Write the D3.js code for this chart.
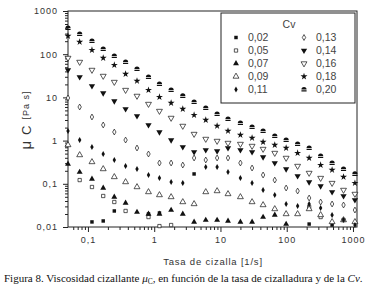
<!DOCTYPE html>
<html>
<head>
<meta charset="utf-8">
<script src="https://cdn.jsdelivr.net/npm/d3@7"></script>
<style>
  body { margin: 0; background: #fff; }
  svg { display: block; font-family: "Liberation Sans", Arial, sans-serif; }
  .axis path, .axis line { stroke: #222; }
  .axis text { fill: #333; font-size: 9px; letter-spacing: 1px; }
</style>
</head>
<body>
<div id="chart"></div>
<script>
// Shear rate [1/s] for every measured point (shared by all series).
const shearRates = [0.05, 0.075, 0.115, 0.17, 0.25, 0.37, 0.55, 0.82, 1.2, 1.8, 2.7, 4.0, 6.0,
  8.9, 13, 20, 30, 44, 66, 98, 146, 218, 325, 484, 720, 1070];

// Shear viscosity μC [Pa s] per volume concentration Cv; null = not shown (below 0,01).
const cv002 = [null, null, 0.0131, 0.0138, 0.0235, null, null, 0.0200, 0.0211, null, null, 0.169, null,
  null, null, null, null, null, null, null, null, 0.0117, null, 0.0111, null, null];
const cv005 = [null, 0.122, 0.0843, 0.0522, 0.0379, 0.0235, null, 0.0170, 0.0105, 0.0111, null, null, null,
  null, null, null, null, null, null, null, null, 0.0290, 0.0170, null, 0.0145, null];
const cv007 = [0.287, 0.187, 0.129, 0.0799, 0.0495, 0.0359, 0.0222, 0.0200, 0.0200, 0.0247, 0.0200, 0.0131, 0.0145,
  0.0145, 0.0138, 0.0131, 0.0131, 0.0170, 0.0190, 0.0117, null, null, null, null, null, null];
const cv009 = [0.791, 0.464, 0.320, 0.220, 0.144, 0.110, 0.0843, 0.0646, 0.0550, 0.0495, 0.0379, 0.0341, 0.0646,
  0.0681, 0.0581, 0.0495, 0.0379, 0.0323, 0.0261, 0.0200, 0.0200, 0.0261, 0.0190, 0.0131, 0.0145, 0.0131];
const cv011 = [1.67, 1.03, 0.711, 0.490, 0.356, 0.258, 0.220, 0.160, 0.136, 0.110, 0.104, null, 0.245,
  0.245, 0.187, 0.136, 0.104, 0.0719, 0.0550, 0.0341, 0.0306, 0.0341, 0.0275, 0.0190, 0.0145, 0.0111];
const cv013 = [9.7, 6.0, 3.52, 2.30, 1.58, 1.03, 0.674, 0.490, 0.303, 0.303, 0.272, 0.396, 0.356,
  0.396, 0.396, 0.303, 0.232, 0.160, 0.122, 0.0799, 0.0681, 0.0469, 0.0379, 0.0341, 0.0323, 0.0247];
const cv014 = [43.1, 29.7, 18.4, 12.6, 8.25, 5.39, 3.71, 2.30, 1.58, 1.03, 0.711, 0.545, 0.606,
  0.574, 0.674, 0.606, 0.545, 0.417, 0.303, 0.220, 0.152, 0.110, 0.0889, 0.0646, 0.0522, 0.0422];
const cv016 = [81.7, 66.0, 43.1, 31.3, 22.7, 14.8, 10.8, 7.03, 4.84, 3.34, 2.18, 1.42, 1.09,
  0.979, 0.880, 0.834, 0.750, 0.639, 0.516, 0.396, 0.258, 0.178, 0.136, 0.104, 0.0719, 0.0581];
const cv018 = [264, 192, 125, 81.7, 56.2, 34.8, 24.0, 14.8, 10.2, 7.42, 5.39, 3.91, 3.0,
  2.18, 1.67, 1.35, 1.15, 0.928, 0.791, 0.674, 0.516, 0.396, 0.272, 0.209, 0.144, 0.104];
const cv020 = [404, 293, 202, 132, 90.9, 66.0, 45.4, 29.7, 20.4, 14.8, 10.8, 7.83, 5.68,
  4.13, 3.16, 2.56, 2.06, 1.67, 1.28, 1.03, 0.834, 0.674, 0.440, 0.303, 0.220, 0.169];

const cvLabels = ["0,02", "0,05", "0,07", "0,09", "0,11", "0,13", "0,14", "0,16", "0,18", "0,20"];
const cvValues = [cv002, cv005, cv007, cv009, cv011, cv013, cv014, cv016, cv018, cv020];
const xTicks = [0.1, 1, 10, 100, 1000];
const xTickLabels = ["0,1", "1", "10", "100", "1000"];
const yTicks = [0.01, 0.1, 1, 10, 100, 1000];
const yTickLabels = ["0,01", "0,1", "1", "10", "100", "1000"];

// "hat" marker for Cv = 0,20: dome on top of a thin bar
const hatSymbol = {
  draw(ctx, size) {
    const r = Math.sqrt(size / 3);
    ctx.moveTo(-r, 0);
    ctx.arc(0, 0, r, Math.PI, 0);
    ctx.closePath();
    ctx.moveTo(-r, 0.8);
    ctx.lineTo(r, 0.8);
    ctx.lineTo(r, r * 0.8);
    ctx.lineTo(-r, r * 0.8);
    ctx.closePath();
  }
};
const markers = [
  { type: d3.symbolSquare, fill: true, size: 12, rot: 0 },
  { type: d3.symbolSquare, fill: false, size: 11, rot: 0 },
  { type: d3.symbolTriangle, fill: true, size: 15, rot: 0 },
  { type: d3.symbolTriangle, fill: false, size: 15, rot: 0 },
  { type: d3.symbolDiamond, fill: true, size: 10, rot: 0 },
  { type: d3.symbolDiamond, fill: false, size: 10, rot: 0 },
  { type: d3.symbolTriangle, fill: true, size: 17, rot: 180 },
  { type: d3.symbolTriangle, fill: false, size: 15, rot: 180 },
  { type: d3.symbolStar, fill: true, size: 15, rot: 0 },
  { type: hatSymbol, fill: true, size: 20, rot: 0 }
];

const W = 382, H = 285;
const m = { left: 68, right: 357, top: 11, bottom: 227 };

const x = d3.scaleLog().domain([0.05, 1150]).range([m.left, m.right]);
const y = d3.scaleLog().domain([0.01, 1000]).range([m.bottom, m.top]);

const svg = d3.select("#chart").append("svg").attr("width", W).attr("height", H);

// minor ticks (2..9 within each decade)
const minorX = [], minorY = [];
for (let e = -2; e <= 3; e++) for (let k = 2; k <= 9; k++) {
  const v = k * Math.pow(10, e);
  if (v > 0.05 && v < 1150) minorX.push(v);
  if (v > 0.01 && v < 1000) minorY.push(v);
}

svg.append("g").attr("class", "axis").attr("transform", `translate(0,${m.bottom})`)
  .call(d3.axisBottom(x).tickValues(minorX).tickSize(3).tickFormat(""))
  .select(".domain").remove();
svg.append("g").attr("class", "axis").attr("transform", `translate(${m.left},0)`)
  .call(d3.axisLeft(y).tickValues(minorY).tickSize(3).tickFormat(""))
  .select(".domain").remove();

svg.append("g").attr("class", "axis").attr("transform", `translate(0,${m.bottom})`)
  .call(d3.axisBottom(x).tickValues(xTicks).tickSize(5).tickPadding(5)
    .tickFormat((d, i) => xTickLabels[i]))
  .select(".domain").remove();
svg.append("g").attr("class", "axis").attr("transform", `translate(${m.left},0)`)
  .call(d3.axisLeft(y).tickValues(yTicks).tickSize(5).tickPadding(5)
    .tickFormat((d, i) => yTickLabels[i]))
  .select(".domain").remove();

// frame
svg.append("rect").attr("x", m.left).attr("y", m.top)
  .attr("width", m.right - m.left).attr("height", m.bottom - m.top)
  .attr("fill", "none").attr("stroke", "#222").attr("stroke-width", 1);

// data points
const plot = svg.append("g");
cvValues.forEach((vals, si) => {
  const mk = markers[si];
  const sym = d3.symbol().type(mk.type).size(mk.size);
  const pts = shearRates.map((sr, i) => ({ sr, v: vals[i] })).filter((p) => p.v != null);
  plot.selectAll(null).data(pts).join("path")
    .attr("d", sym)
    .attr("transform", (p) => `translate(${x(p.sr)},${y(p.v)}) rotate(${mk.rot})`)
    .attr("fill", mk.fill ? "#111" : "#fff")
    .attr("stroke", "#111")
    .attr("stroke-width", mk.fill ? 0 : 0.7);
});

// legend
const lg = svg.append("g");
lg.append("rect").attr("x", 221).attr("y", 13).attr("width", 134).attr("height", 90)
  .attr("fill", "#fff").attr("stroke", "#222").attr("stroke-width", 1);
lg.append("text").attr("x", 289).attr("y", 28).attr("text-anchor", "middle")
  .attr("font-size", 10.5).attr("fill", "#444").text("Cv");
cvLabels.forEach((lab, i) => {
  const col = Math.floor(i / 5), row = i % 5;
  const mx = col ? 304 : 236, ty = 41 + row * 13;
  const mk = markers[i];
  lg.append("path").attr("d", d3.symbol().type(mk.type).size(mk.size)())
    .attr("transform", `translate(${mx},${ty - 3.5}) rotate(${mk.rot})`)
    .attr("fill", mk.fill ? "#111" : "#fff").attr("stroke", "#111")
    .attr("stroke-width", mk.fill ? 0 : 0.7);
  lg.append("text").attr("x", mx + 12).attr("y", ty)
    .attr("font-size", 10.5).attr("fill", "#444").text(lab);
});

// axis titles
svg.append("text").attr("x", 213).attr("y", 265).attr("text-anchor", "middle")
  .attr("font-size", 9.5).attr("letter-spacing", 0.8).attr("fill", "#333")
  .text("Tasa de cizalla [1/s]");

const yt = svg.append("text").attr("transform", "translate(31,120) rotate(-90)")
  .attr("text-anchor", "middle").attr("fill", "#333");
yt.append("tspan").attr("font-size", 15).text("μ");
yt.append("tspan").attr("font-size", 13).attr("dx", 6).text("C");
yt.append("tspan").attr("font-size", 9).attr("dx", 6).attr("dy", -2)
  .attr("letter-spacing", 1).text("[Pa s]");

// caption
const cap = svg.append("text").attr("x", 4).attr("y", 282)
  .attr("font-family", "'Liberation Serif', 'Times New Roman', serif")
  .attr("font-size", 11).attr("fill", "#111");
cap.append("tspan").text("Figura 8. Viscosidad cizallante ");
cap.append("tspan").attr("font-style", "italic").text("μ");
cap.append("tspan").attr("font-size", 7.5).attr("dy", 2).text("C");
cap.append("tspan").attr("dy", -2).text(", en función de la tasa de cizalladura y de la ");
cap.append("tspan").attr("font-style", "italic").text("Cv");
cap.append("tspan").text(".");
</script>
</body>
</html>
